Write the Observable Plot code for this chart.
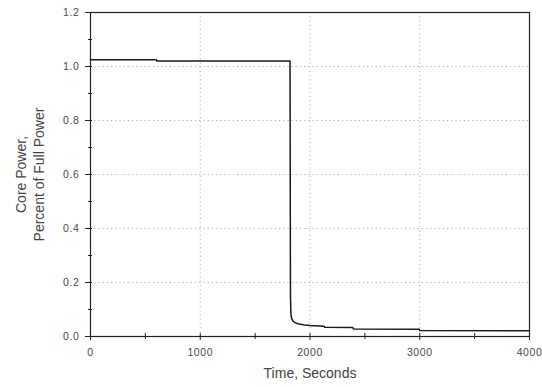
<!DOCTYPE html>
<html><head><meta charset="utf-8">
<script src="https://cdn.jsdelivr.net/npm/d3@7"></script>
<script src="https://cdn.jsdelivr.net/npm/@observablehq/plot@0.6"></script>
<style>
html,body{margin:0;padding:0;background:#fff;}
#chart svg{display:block;}
g[aria-label="y-axis tick label"] text, g[aria-label="x-axis tick label"] text {letter-spacing:0.6px;}
g[aria-label="ylab"] text, g[aria-label="xlab"] text {letter-spacing:0.8px;}
</style>
</head><body><div id="chart"></div>
<script>
const timeSec   = [0,     600,   605,   1818,  1822, 1826, 1832, 1845, 1870, 1900, 1950, 2000, 2130, 2135, 2390, 2395, 2995, 3000, 4000];
const corePower = [1.025, 1.025, 1.020, 1.020, 0.15, 0.085, 0.068, 0.057, 0.050, 0.046, 0.043, 0.041, 0.038, 0.034, 0.033, 0.028, 0.027, 0.022, 0.021];
const xMajorTicks = [0, 1000, 2000, 3000, 4000];
const xMinorTicks = [500, 1500, 2500, 3500];
const yMajorTicks = [0, 0.2, 0.4, 0.6, 0.8, 1.0, 1.2];
const yMinorTicks = [0.1, 0.3, 0.5, 0.7, 0.9, 1.1];
const xGrid = [1000, 2000, 3000];
const yGrid = [0.2, 0.4, 0.6, 0.8, 1.0];
const xLabel = "Time, Seconds";
const yLabel = ["Core Power,", "Percent of Full Power"];

const data = timeSec.map((t, i) => ({t, p: corePower[i]}));
const blank = () => "";
const gridStyle = {stroke: "#b0b0b0", strokeOpacity: 1, strokeDasharray: "1.2,3", strokeWidth: 1};

const chart = Plot.plot({
  width: 542, height: 387,
  marginLeft: 90, marginRight: 13, marginTop: 12, marginBottom: 51,
  style: {fontFamily: "'Liberation Sans', Arial, sans-serif", fontSize: "10.5px", color: "#444", background: "#fff"},
  x: {domain: [0, 4000]},
  y: {domain: [0, 1.2]},
  marks: [
    Plot.gridX({...gridStyle, ticks: xGrid}),
    Plot.gridY({...gridStyle, ticks: yGrid}),
    Plot.frame({stroke: "#222", strokeWidth: 1.2}),
    Plot.axisY({ticks: yMajorTicks, tickSize: 5, tickPadding: 6, tickFormat: d3.format(".1f"), label: null, stroke: "#222", fill: "#4a4a4a"}),
    Plot.axisY({ticks: yMajorTicks.concat(yMinorTicks), tickSize: -2, tickFormat: blank, label: null, stroke: "#222"}),
    Plot.axisY({ticks: yMinorTicks, tickSize: 2, tickFormat: blank, label: null, stroke: "#222"}),
    Plot.axisX({ticks: xMajorTicks, tickSize: 4, tickPadding: 8, tickFormat: d => String(d), label: null, stroke: "#222", fill: "#4a4a4a"}),
    Plot.axisX({ticks: xMajorTicks.concat(xMinorTicks), tickSize: -3, tickFormat: blank, label: null, stroke: "#222"}),
    Plot.axisX({ticks: xMinorTicks, tickSize: 3, tickFormat: blank, label: null, stroke: "#222"}),
    Plot.line(data, {x: "t", y: "p", stroke: "#1a1a1a", strokeWidth: 1.5}),
    Plot.text([xLabel], {frameAnchor: "bottom", dy: 41, fontSize: 14, fill: "#444", textAnchor: "middle", ariaLabel: "xlab"}),
    Plot.text([yLabel.join("\n")], {frameAnchor: "left", dx: -61, rotate: -90, fontSize: 14, lineHeight: 1.25, fill: "#444", textAnchor: "middle", ariaLabel: "ylab"})
  ]
});
document.getElementById("chart").appendChild(chart);
</script>
</body></html>
